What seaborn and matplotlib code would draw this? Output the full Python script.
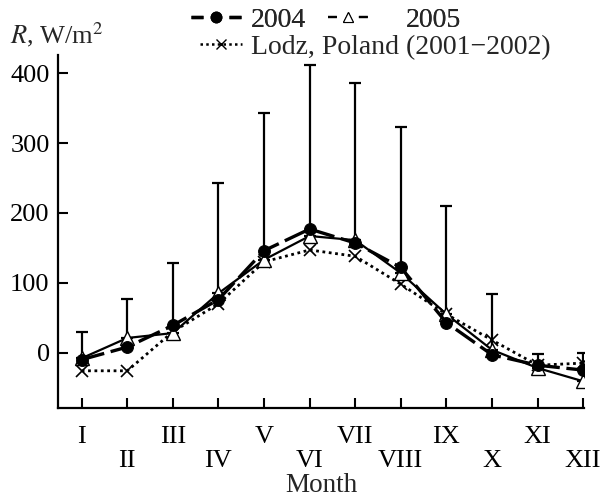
import numpy as np
import pandas as pd
import matplotlib
matplotlib.use("Agg")
import matplotlib.pyplot as plt
from matplotlib.lines import Line2D
import seaborn as sns

months = np.arange(1, 13)
month_labels = ["I", "II", "III", "IV", "V", "VI", "VII", "VIII", "IX", "X", "XI", "XII"]
r2004 = [-10, 8, 39, 76, 146, 177, 157, 122, 43, -3, -18, -25]
r2005 = [-8, 21, 28, 85, 133, 167, 161, 114, 55, 4, -22, -41]
lodz = [-26, -26, 30, 70, 130, 147, 138, 98, 55, 18, -18, -15]
err_top = [30, 77, 128, 243, 343, 412, 386, 323, 210, 84, -2, 0]

sns.set_theme(style="ticks")
plt.rcParams["font.family"] = ["Liberation Serif", "DejaVu Serif"]
plt.rcParams["mathtext.fontset"] = "stix"

fs = 19
lfs = 20
fig = plt.figure(figsize=(6.04, 5.01), dpi=100)
ax = fig.add_axes([0.096, 0.186, 0.871, 0.704])

df = pd.DataFrame({"month": months, "2004": r2004, "2005": r2005, "lodz": lodz, "top": err_top})

# error bars (upward only)
ax.errorbar(df["month"], df["2005"], yerr=[np.zeros(12), df["top"] - df["2005"]],
            fmt="none", ecolor="black", elinewidth=1.6, capsize=4, capthick=1.6, zorder=1)

sns.lineplot(data=df, x="month", y="lodz", ax=ax, color="black", lw=2.0,
             linestyle=(0, (1, 1.3)), marker="x", markersize=8.5, markeredgewidth=1.2,
             markeredgecolor="black", legend=False, zorder=2)
sns.lineplot(data=df, x="month", y="2005", ax=ax, color="black", lw=1.6,
             marker="^", markersize=9.5, markerfacecolor="white", markeredgecolor="black",
             markeredgewidth=1.0, legend=False, zorder=3)
sns.lineplot(data=df, x="month", y="2004", ax=ax, color="black", lw=2.4,
             linestyle=(0, (7, 2)), marker="o", markersize=8.5, markerfacecolor="black",
             markeredgecolor="black", legend=False, zorder=4)

ax.set_xlim(0.48, 12.02)
ax.set_ylim(-79, 426)
ax.set_yticks([0, 100, 200, 300, 400])
ax.set_xticks(months)
ax.set_xticklabels(month_labels)
ax.tick_params(axis="both", direction="in", length=7, width=1.5, labelsize=fs, colors="black")
ax.tick_params(axis="y", pad=6)
for i, t in enumerate(ax.xaxis.get_major_ticks()):
    t.set_pad(13 if i % 2 == 0 else 30.5)
for s in ["top", "right"]:
    ax.spines[s].set_visible(False)
for s in ["left", "bottom"]:
    ax.spines[s].set_linewidth(1.6)
    ax.spines[s].set_color("black")
ax.set_xlabel("Month", fontsize=19.5)
ax.xaxis.set_label_coords(0.5, -0.185)
ax.set_ylabel("")
fig.text(0.017, 0.914, "$R$, W/m$^2$", fontsize=fs, ha="left", va="baseline")

h04 = Line2D([], [], color="black", lw=2.4, linestyle=(0, (3.6, 7.8)), marker="o",
             markersize=7.5, markerfacecolor="black", markeredgecolor="black")
h05 = Line2D([], [], color="black", lw=1.6, linestyle=(0, (4.0, 9.9)), marker="^",
             markersize=7, markerfacecolor="white", markeredgecolor="black", markeredgewidth=0.8)
hlz = Line2D([], [], color="black", lw=1.8, linestyle=(0, (1, 1.3)), marker="x",
             markersize=6.5, markeredgewidth=1.0, markeredgecolor="black")

common = dict(frameon=False, fontsize=lfs, loc="center left", borderaxespad=0, borderpad=0)
leg1 = fig.legend([h04], ["2004"], bbox_to_anchor=(0.316, 0.960),
                  handlelength=1.8, handletextpad=0.34, **common)
fig.add_artist(leg1)
leg2 = fig.legend([h05], ["2005"], bbox_to_anchor=(0.543, 0.960),
                  handlelength=1.45, handletextpad=1.35, **common)
fig.add_artist(leg2)
fig.legend([hlz], ["Lodz, Poland (2001\u22122002)"], bbox_to_anchor=(0.331, 0.906),
           handlelength=1.5, handletextpad=0.34, **common)

fig.savefig("out.png", dpi=100)
